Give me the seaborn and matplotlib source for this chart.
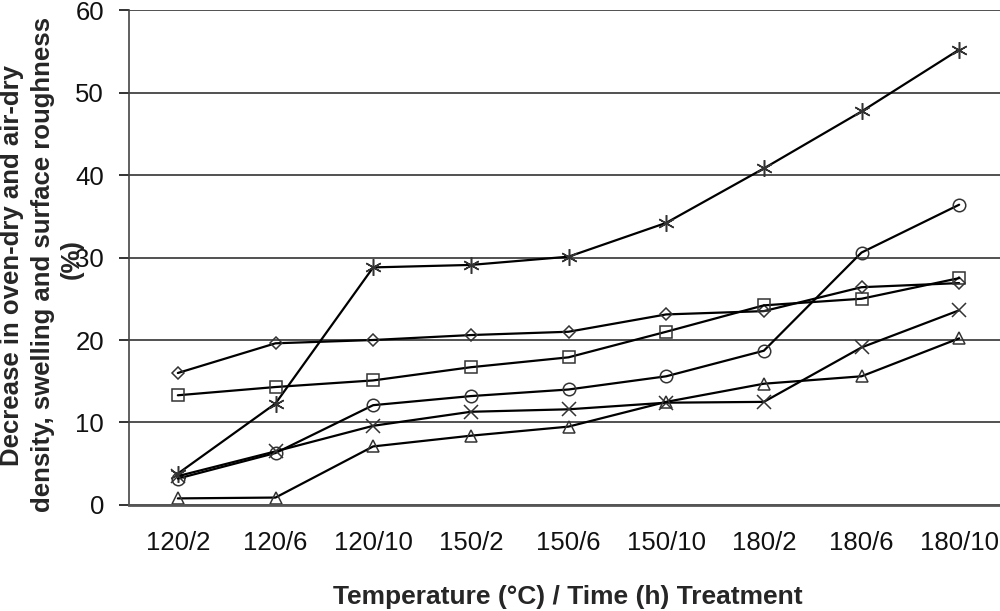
import matplotlib
matplotlib.use("Agg")
import matplotlib.pyplot as plt
from matplotlib.ticker import FixedLocator
import seaborn as sns
import pandas as pd

sns.set_style("white")
plt.rcParams["font.family"] = ["Liberation Sans", "DejaVu Sans"]

# Data
treatments = ["120/2", "120/6", "120/10", "150/2", "150/6", "150/10", "180/2", "180/6", "180/10"]
star = [3.8, 12.3, 28.8, 29.1, 30.1, 34.2, 40.8, 47.7, 55.2]
diamond = [16.0, 19.6, 20.0, 20.6, 21.0, 23.1, 23.5, 26.4, 26.9]
square = [13.3, 14.3, 15.1, 16.7, 17.9, 21.0, 24.2, 25.0, 27.5]
circle = [3.2, 6.3, 12.1, 13.2, 14.0, 15.6, 18.7, 30.6, 36.4]
cross = [3.5, 6.5, 9.6, 11.3, 11.6, 12.4, 12.5, 19.1, 23.6]
triangle = [0.8, 0.9, 7.1, 8.4, 9.5, 12.5, 14.7, 15.6, 20.2]

ylabel_lines = ["Decrease in oven-dry and air-dry",
                "density, swelling and surface roughness",
                "(%)"]

series = {"star": star, "diamond": diamond, "square": square,
          "circle": circle, "cross": cross, "triangle": triangle}
df = pd.DataFrame([(name, t, v) for name, vals in series.items()
                   for t, v in zip(treatments, vals)],
                  columns=["series", "treatment", "value"])

markers = {"star": (6, 2, 0), "diamond": "D", "square": "s",
           "circle": "o", "cross": "x", "triangle": "^"}
sizes = {"star": 12, "diamond": 6.5, "square": 9, "circle": 9, "cross": 10, "triangle": 9}

fig = plt.figure(figsize=(10, 6.11), dpi=100)
ax = fig.add_axes([0.129, 0.1735, 0.879, 0.8101])

for name in series:
    sub = df[df["series"] == name]
    sns.lineplot(data=sub, x="treatment", y="value", ax=ax, color="black",
                 linewidth=1.6, marker=markers[name], markersize=sizes[name],
                 markerfacecolor="none", markeredgecolor="#333333",
                 markeredgewidth=1.1, legend=False, sort=False)

ax.set_xlim(-0.5, 8.5)
ax.set_ylim(0, 60)
ax.set_yticks(range(0, 61, 10))
ax.set_xticks(range(len(treatments)))
ax.set_xticklabels(treatments)
ax.xaxis.set_minor_locator(FixedLocator([i + 0.5 for i in range(len(treatments))]))
ax.tick_params(axis="x", which="major", length=0, pad=19, labelsize=18.5, colors="#111111")
ax.tick_params(axis="x", which="minor", length=7, width=1.2, color="#444444", direction="out")
ax.tick_params(axis="y", length=7, width=1.2, pad=11, labelsize=18.5, colors="#111111",
               direction="out", left=True)

ax.grid(axis="y", color="#222222", linewidth=1.1)
ax.set_axisbelow(True)
for side in ["top", "right"]:
    ax.spines[side].set_visible(False)
ax.spines["left"].set_color("#444444")
ax.spines["left"].set_linewidth(1.2)
ax.spines["bottom"].set_color("#555555")
ax.spines["bottom"].set_linewidth(2.0)

ax.set_xlabel("")
ax.set_ylabel("")
fig.text(0.568, 1 - 597 / 611, "Temperature (°C) / Time (h) Treatment",
         ha="center", va="center", fontsize=19, fontweight="bold")

# y label: three lines placed as in the reference
for line, (px, py) in zip(ylabel_lines, [(12, 265), (43, 265), (72, 259)]):
    fig.text(px / 1000, 1 - py / 611, line, ha="center", va="center",
             rotation=90, fontsize=18.5, fontweight="bold")

fig.savefig("out.png", dpi=100)
